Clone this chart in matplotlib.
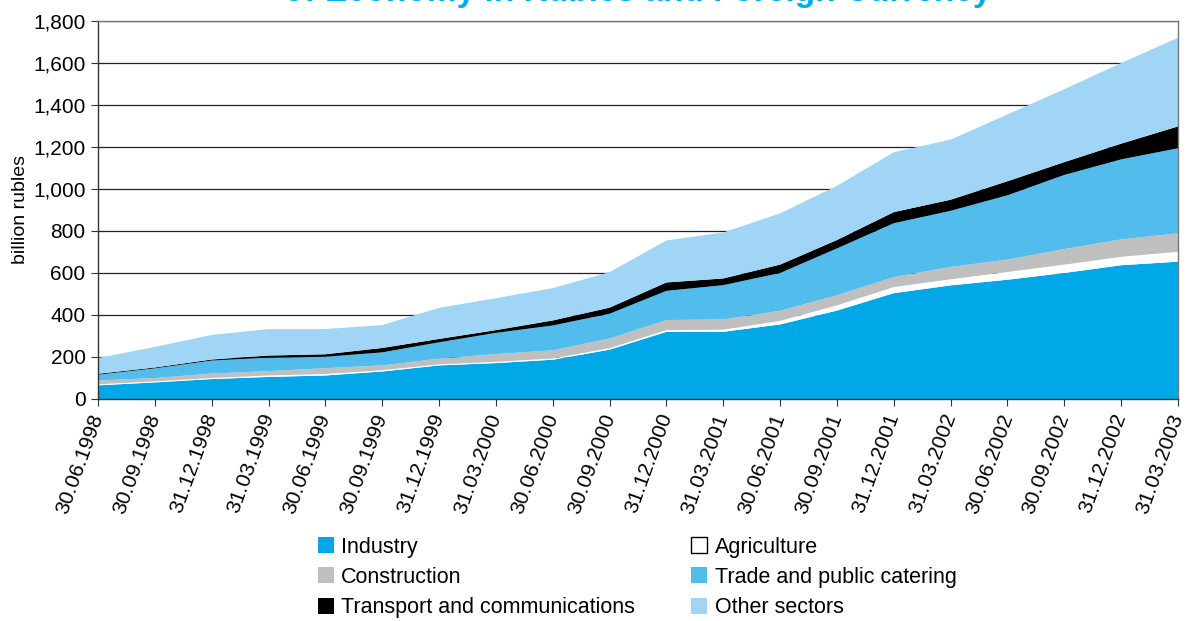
import numpy as np
import matplotlib
matplotlib.use("Agg")
import matplotlib.pyplot as plt
from matplotlib.ticker import StrMethodFormatter
from matplotlib.patches import Patch

plt.rcParams['font.family'] = ['Liberation Sans', 'DejaVu Sans']

# даты на оси x
dates = ['30.06.1998', '30.09.1998', '31.12.1998', '31.03.1999', '30.06.1999',
         '30.09.1999', '31.12.1999', '31.03.2000', '30.06.2000', '30.09.2000',
         '31.12.2000', '31.03.2001', '30.06.2001', '30.09.2001', '31.12.2001',
         '31.03.2002', '30.06.2002', '30.09.2002', '31.12.2002', '31.03.2003']

# значения по отраслям, млрд руб.
industry = [65, 79, 95, 105, 112, 131, 160, 171, 187, 235,
            320, 320, 355, 421, 504, 541, 568, 600, 637, 654]
agriculture = [5, 5, 5, 7, 7, 6, 5, 6, 6, 7,
               8, 10, 17, 25, 29, 29, 37, 40, 40, 47]
construction = [18, 16, 21, 21, 28, 23, 27, 37, 39, 46,
                48, 49, 48, 48, 48, 59, 59, 74, 83, 88]
trade = [28, 46, 62, 64, 54, 62, 78, 101, 118, 118,
         139, 163, 180, 223, 256, 267, 306, 353, 381, 405]
transport = [4, 4, 5, 10, 12, 21, 16, 13, 24, 29,
             40, 32, 40, 40, 53, 53, 67, 61, 75, 104]
other = [75, 98, 117, 126, 120, 109, 148, 152, 154, 169,
         200, 219, 244, 258, 285, 286, 318, 347, 384, 422]

names = ['Industry', 'Agriculture', 'Construction',
         'Trade and public catering', 'Transport and communications', 'Other sectors']
colors = ['#00a8e8', '#ffffff', '#bfbfbf', '#52bdec', '#000000', '#a0d5f5']

fig = plt.figure(figsize=(11.89, 6.21), dpi=100)
ax = fig.add_axes([98/1189, 1 - 399/621, 1080/1189, 378/621])

x = np.arange(len(dates))
ax.stackplot(x, industry, agriculture, construction, trade, transport, other,
             colors=colors, linewidth=0, zorder=2)

ax.set_xlim(0, len(dates) - 1)
ax.set_ylim(0, 1800)
ax.set_yticks(range(0, 1801, 200))
ax.yaxis.set_major_formatter(StrMethodFormatter('{x:,.0f}'))
ax.grid(axis='y', color='#222222', linewidth=0.9, zorder=1)
ax.set_axisbelow(True)

ax.set_xticks(x)
ax.set_xticklabels(dates, rotation=70, ha='right', va='center', rotation_mode='anchor')
ax.tick_params(axis='both', labelsize=15, direction='out', length=5, color='#333333')
ax.tick_params(axis='x', pad=6)
ax.tick_params(axis='y', pad=4)
for s in ax.spines.values():
    s.set_color('#777777')
    s.set_linewidth(1.0)
ax.spines['left'].set_color('#333333')
ax.spines['bottom'].set_color('#333333')

ax.set_ylabel('billion rubles', fontsize=14, labelpad=3)

fig.text(0.536, 1 - 1/621, 'of Economy in Rubles and Foreign Currency',
         ha='center', va='baseline', fontsize=24, fontweight='bold', color='#00aeef')

order = [0, 2, 4, 1, 3, 5]
handles = [Patch(facecolor=colors[i], edgecolor='black' if i == 1 else colors[i],
                 linewidth=1 if i == 1 else 0) for i in order]
labels = [names[i] for i in order]
fig.legend(handles, labels, loc='upper left', bbox_to_anchor=(309/1189, 1 - 528/621),
           ncol=2, frameon=False, fontsize=15.5, handlelength=0.75, handleheight=0.75,
           handletextpad=0.35, columnspacing=2.6, labelspacing=0.43, borderaxespad=0)

fig.savefig('out.png', dpi=100)
